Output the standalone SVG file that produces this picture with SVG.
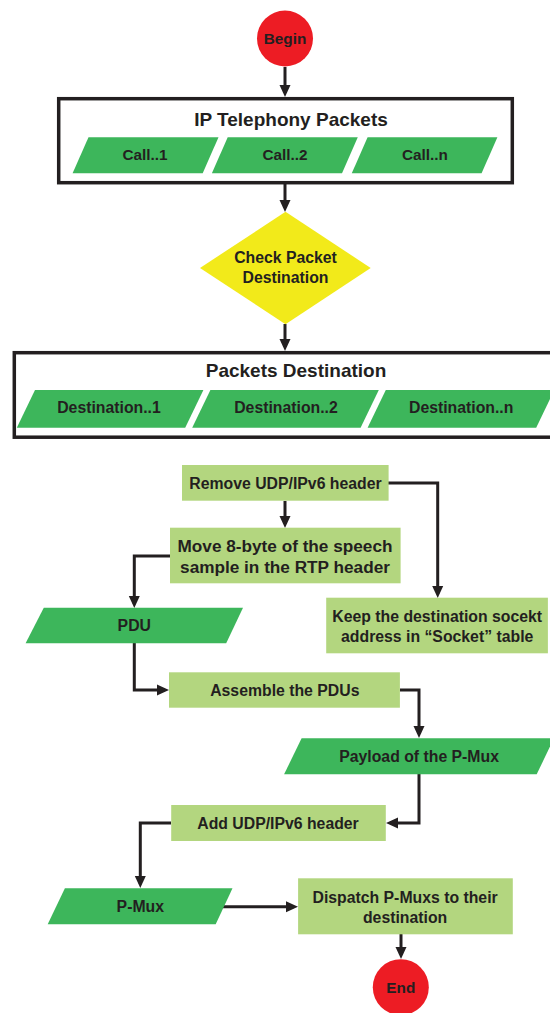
<svg xmlns="http://www.w3.org/2000/svg" width="550" height="1013" viewBox="0 0 550 1013">
<defs>
<marker id="arr" viewBox="0 0 12 12" markerWidth="12" markerHeight="12" refX="8" refY="6" markerUnits="userSpaceOnUse" orient="auto">
<path d="M0,0.5 L12,6 L0,11.5 z" fill="#231F20"/>
</marker>
<style>
text{font-family:"Liberation Sans",Arial,sans-serif;font-weight:bold;fill:#231F20;text-anchor:middle}
.t{font-size:15.8px}
.s{font-size:15.3px}
.b{font-size:17.2px}
.h{font-size:19px}
.term{fill:#ED1C24}
.par{fill:#3DB65B}
.box{fill:#B3D67F}
.cont{fill:#FFFFFF;stroke:#231F20;stroke-width:3.5}
.dec{fill:#F2EA1A}
.c{fill:none;stroke:#231F20;stroke-width:3;marker-end:url(#arr)}
</style>
</defs>
<rect width="550" height="1013" fill="#FFFFFF"/>
<g id="connectors">
<path class="c" d="M285,67 V93"/>
<path class="c" d="M285,184 V208"/>
<path class="c" d="M285,324 V347"/>
<path class="c" d="M285,501 V524"/>
<path class="c" d="M388,483 H437.7 V594"/>
<path class="c" d="M170,556 H134.3 V604"/>
<path class="c" d="M134.3,643 V690 H165"/>
<path class="c" d="M400,690 H419 V734"/>
<path class="c" d="M419,774 V823 H390"/>
<path class="c" d="M171,823 H140.3 V884"/>
<path class="c" d="M223,906.7 H294"/>
<path class="c" d="M401,934 V955"/>
</g>
<g id="begin">
<circle class="term" cx="285" cy="38.5" r="28"/>
<text class="s" x="285" y="44">Begin</text>
</g>
<g id="ip-telephony-packets">
<rect class="cont" x="58.7" y="98.7" width="453.6" height="84"/>
<text class="h" x="291" y="126">IP Telephony Packets</text>
</g>
<g id="call1">
<polygon class="par" points="88.5,137.3 218.5,137.3 202.7,173.3 72.6,173.3"/>
<text class="s" x="145" y="160">Call..1</text>
</g>
<g id="call2">
<polygon class="par" points="227.7,137.3 357.8,137.3 342,173.3 211.9,173.3"/>
<text class="s" x="285" y="160">Call..2</text>
</g>
<g id="calln">
<polygon class="par" points="367.6,137.3 497.4,137.3 481.6,173.3 351.8,173.3"/>
<text class="s" x="425" y="160">Call..n</text>
</g>
<g id="check">
<polygon class="dec" points="285.5,211.7 370.7,268 285.5,324.3 200,268"/>
<text class="t" x="285.5" y="263.3">Check Packet</text>
<text class="t" x="285.5" y="282.7">Destination</text>
</g>
<g id="packets-destination">
<rect class="cont" x="14.3" y="352.7" width="570" height="84.5"/>
<text class="h" x="296" y="377">Packets Destination</text>
</g>
<g id="dest1">
<polygon class="par" points="35,390 203.4,390 185.2,427.7 16.8,427.7"/>
<text class="t" x="109" y="413.3">Destination..1</text>
</g>
<g id="dest2">
<polygon class="par" points="210.4,390 378.8,390 360.6,427.7 192.2,427.7"/>
<text class="t" x="286" y="413.3">Destination..2</text>
</g>
<g id="destn">
<polygon class="par" points="385.8,390 554.4,390 536.2,427.7 367.6,427.7"/>
<text class="t" x="461.2" y="413.3">Destination..n</text>
</g>
<g id="remove">
<rect class="box" x="182" y="465" width="206.6" height="35.7"/>
<text class="t" x="285.5" y="488.8">Remove UDP/IPv6 header</text>
</g>
<g id="move">
<rect class="box" x="170" y="527.7" width="230.6" height="55.6"/>
<text class="b" x="285" y="552">Move 8-byte of the speech</text>
<text class="b" x="285" y="573">sample in the RTP header</text>
</g>
<g id="keep">
<rect class="box" x="326.2" y="597.7" width="221.7" height="55.6"/>
<text class="t" x="437.2" y="622">Keep the destination socekt</text>
<text class="t" x="437.2" y="641.5">address in “Socket” table</text>
</g>
<g id="pdu">
<polygon class="par" points="43.8,607.7 243,607.7 226.2,643.3 25.6,643.3"/>
<text class="t" x="134.3" y="631">PDU</text>
</g>
<g id="assemble">
<rect class="box" x="169" y="672.3" width="230.9" height="35.4"/>
<text class="t" x="284.8" y="695.5">Assemble the PDUs</text>
</g>
<g id="payload">
<polygon class="par" points="301.6,738.3 554,738.3 536.7,774.3 284.1,774.3"/>
<text class="t" x="419.1" y="762">Payload of the P-Mux</text>
</g>
<g id="add">
<rect class="box" x="171.2" y="805" width="214.6" height="36"/>
<text class="t" x="278" y="828.5">Add UDP/IPv6 header</text>
</g>
<g id="pmux">
<polygon class="par" points="64.9,888.3 232.5,888.3 215.7,924.3 47.7,924.3"/>
<text class="t" x="140.3" y="912">P-Mux</text>
</g>
<g id="dispatch">
<rect class="box" x="298.1" y="878.3" width="214.7" height="56"/>
<text class="t" x="405.1" y="902.5">Dispatch P-Muxs to their</text>
<text class="t" x="405.1" y="922.5">destination</text>
</g>
<g id="end">
<circle class="term" cx="400.8" cy="987.2" r="28"/>
<text class="s" x="400.8" y="993">End</text>
</g>
</svg>
